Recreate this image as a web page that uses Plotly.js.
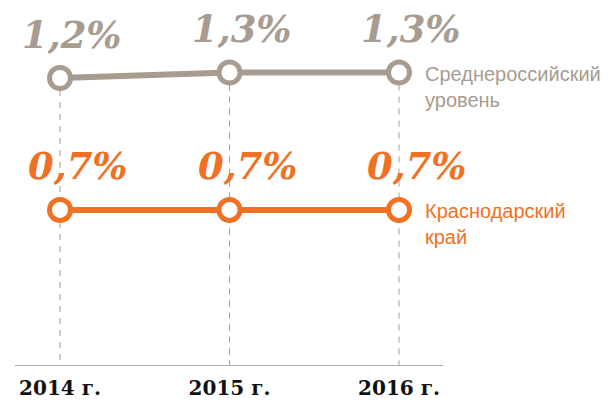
<!DOCTYPE html>
<html>
<head>
<meta charset="utf-8">
<script src="https://cdn.plot.ly/plotly-3.0.1.min.js"></script>
<style>html,body{margin:0;padding:0;background:#fff;}#chart{width:616px;height:401px;}</style>
</head>
<body>
<div id="chart"></div>
<script>
const years = [2014, 2015, 2016];
const yearLabels = ["2014 г.", "2015 г.", "2016 г."];
const russiaValues = [1.2, 1.3, 1.3];
const kubanValues = [0.7, 0.7, 0.7];
const russiaName = "Среднероссийский<br>уровень";
const kubanName = "Краснодарский<br>край";

const GRAY = "#a89b90";
const ORANGE = "#f07124";
const yRange = [-4.018, 2.618];
const y2Range = [0, 1.648];

function fmt(v) { return "<b><i>" + v.toFixed(1).replace(".", ",") + "%</i></b>"; }

const dashX = [], dashY = [];
years.forEach((yr, i) => { dashX.push(yr, yr, null); dashY.push(russiaValues[i], yRange[0], null); });

const traces = [
  { x: dashX, y: dashY, yaxis: "y", mode: "lines", line: { color: GRAY, width: 1, dash: "6px,6px" }, hoverinfo: "skip", cliponaxis: false },
  { x: years, y: russiaValues, yaxis: "y", mode: "lines+markers", cliponaxis: false,
    line: { color: GRAY, width: 6 },
    marker: { size: 21, color: "#ffffff", line: { color: GRAY, width: 5 } } },
  { x: years, y: kubanValues, yaxis: "y2", mode: "lines+markers", cliponaxis: false,
    line: { color: ORANGE, width: 6 },
    marker: { size: 21, color: "#ffffff", line: { color: ORANGE, width: 5 } } }
];

const annotations = [];
years.forEach((yr, i) => {
  annotations.push({ x: yr, y: russiaValues[i], xref: "x", yref: "y", text: fmt(russiaValues[i]),
    showarrow: false, xanchor: "center", yanchor: "bottom", xshift: 12, yshift: 19,
    font: { family: "DejaVu Serif", size: 37, color: GRAY } });
  annotations.push({ x: yr, y: kubanValues[i], xref: "x", yref: "y2", text: fmt(kubanValues[i]),
    showarrow: false, xanchor: "center", yanchor: "bottom", xshift: 18, yshift: 20,
    font: { family: "DejaVu Serif", size: 37, color: ORANGE } });
});
const last = years.length - 1;
annotations.push({ x: years[last], y: russiaValues[last], xref: "x", yref: "y", text: russiaName,
  showarrow: false, xanchor: "left", yanchor: "middle", align: "left", xshift: 24, yshift: -15,
  font: { family: "Liberation Sans", size: 20, color: GRAY } });
annotations.push({ x: years[last], y: kubanValues[last], xref: "x", yref: "y2", text: kubanName,
  showarrow: false, xanchor: "left", yanchor: "middle", align: "left", xshift: 24, yshift: -14,
  font: { family: "Liberation Sans", size: 20, color: ORANGE } });

const layout = {
  width: 616, height: 401,
  margin: { l: 15, r: 173, t: 0, b: 36 },
  paper_bgcolor: "#ffffff", plot_bgcolor: "#ffffff",
  showlegend: false,
  xaxis: {
    range: [2013.7345, 2016.2596], tickmode: "array", tickvals: years, ticktext: yearLabels.map(t => "<b>" + t + "</b>"),
    showgrid: false, zeroline: false, showline: true, linecolor: "#b3a9a0", linewidth: 1,
    ticks: "", ticklabelstandoff: 5,
    tickfont: { family: "DejaVu Serif", size: 20, color: "#111111" }
  },
  yaxis: { range: yRange, visible: false, showgrid: false, zeroline: false },
  yaxis2: { range: y2Range, overlaying: "y", visible: false, showgrid: false, zeroline: false },
  annotations: annotations
};

Plotly.newPlot("chart", traces, layout, { displayModeBar: false, staticPlot: true });
</script>
</body>
</html>
